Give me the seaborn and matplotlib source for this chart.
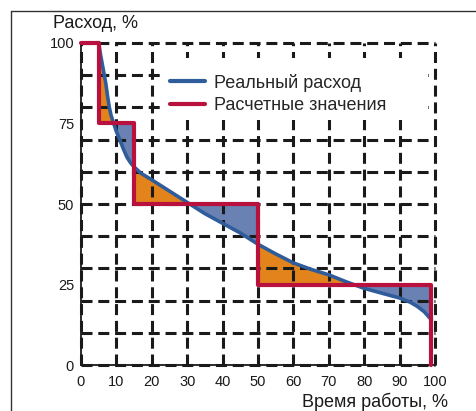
import numpy as np
import matplotlib
matplotlib.use("Agg")
import matplotlib.pyplot as plt
import seaborn as sns
from matplotlib.ticker import MultipleLocator, FixedLocator
from matplotlib.lines import Line2D
from matplotlib.patches import Rectangle

real_x = [5, 5.5, 6, 6.5, 7, 7.5, 8, 8.5, 9, 10, 11, 12, 13, 14, 15, 17, 20, 25, 30, 35,
          40, 45, 50, 55, 60, 65, 70, 75, 80, 85, 90, 93, 95, 97, 99]
real_y = [100, 96.5, 93.5, 90.5, 87.5, 83.5, 80, 77.5, 75.8, 72.5, 69.8, 67, 64.5, 62.8, 61.5, 59.5,
          57.5, 54, 50.5, 47, 44, 41, 37.5, 34.5, 31.7, 29.7, 28, 25.8, 23.8, 22.3, 20.8,
          19.5, 18.2, 16.5, 14]

# calculated (step) values
step_x = [0, 5, 15, 50, 99]
step_y = [100, 75, 50, 25, 0]

label_real = "Реальный расход"
label_calc = "Расчетные значения"

c_line = "#2f5c9a"
c_fill = "#6982b3"
c_orange = "#e2841b"
c_red = "#b8113e"

sns.set_style("white")
plt.rcParams["font.family"] = ["Liberation Sans", "DejaVu Sans"]

fig = plt.figure(figsize=(4.77, 4.11), dpi=100)
ax = fig.add_axes([81 / 477, 46 / 411, 354 / 477, 322 / 411])

# fills between real curve and each calculated step
rx = np.array(real_x)
ry = np.array(real_y)
for i in range(1, len(step_x) - 1):
    a, b, lvl = step_x[i], step_x[i + 1], step_y[i]
    m = (rx >= a) & (rx <= b)
    xs, ys = rx[m], ry[m]
    ax.fill_between(xs, ys, lvl, where=ys >= lvl, interpolate=True,
                    color=c_orange, lw=0, zorder=1)
    ax.fill_between(xs, ys, lvl, where=ys <= lvl, interpolate=True,
                    color=c_fill, lw=0, zorder=1)

sns.lineplot(x=real_x, y=real_y, ax=ax, color=c_line, lw=2.6, zorder=3,
             label=label_real, sort=False)
sns.lineplot(x=step_x, y=step_y, ax=ax, color=c_red, lw=3, zorder=4,
             drawstyle="steps-post", label=label_calc, sort=False, clip_on=False)

ax.set_xlim(0, 100)
ax.set_ylim(0, 100)
ax.xaxis.set_major_locator(MultipleLocator(10))
ax.yaxis.set_major_locator(FixedLocator([0, 25, 50, 75, 100]))
ax.yaxis.set_minor_locator(MultipleLocator(10))
ax.yaxis.remove_overlapping_locs = False

grid_kw = dict(color="#1a1a1a", linewidth=2.2, linestyle=(0, (3.6, 1.9)))
ax.grid(which="major", axis="x", **grid_kw)
ax.grid(which="minor", axis="y", **grid_kw)
ax.grid(which="major", axis="y", visible=False)
ax.set_axisbelow(False)  # grid above fills (axis zorder 2.5)
for t in ax.xaxis.get_major_ticks() + ax.yaxis.get_minor_ticks():
    t.gridline.set_clip_on(False)

ax.tick_params(which="major", labelsize=10.5, length=0, labelcolor="#1a1a1a")
ax.tick_params(axis="x", pad=7)
ax.tick_params(axis="y", pad=5)
ax.tick_params(which="minor", length=0)

for s in ["top", "right"]:
    ax.spines[s].set_visible(False)
for s in ["left", "bottom"]:
    ax.spines[s].set_color("#1a1a1a")
    ax.spines[s].set_linewidth(1.3)

ax.set_ylabel("Расход, %", fontsize=13, rotation=0, ha="left", va="center", color="#1a1a1a")
ax.yaxis.set_label_coords(-0.079, 1.062)
ax.set_xlabel("Время работы, %", fontsize=13, ha="right", va="center", color="#1a1a1a")
ax.xaxis.set_label_coords(1.037, -0.115)

# white area behind the legend
ax.add_patch(Rectangle((0.237, 0.761), 0.743, 0.192, transform=ax.transAxes,
                       facecolor="white", edgecolor="none", zorder=2.7))
leg = ax.legend(loc="upper left", bbox_to_anchor=(0.252, 0.905), frameon=False,
                fontsize=13, handlelength=1.9, handletextpad=0.55,
                labelspacing=0.3, borderpad=0, borderaxespad=0)
leg.set_zorder(5)
for h in leg.get_lines():
    h.set_linewidth(3)

# outer frame
fig.add_artist(Line2D([11 / 477, 1], [1 - 11 / 411, 1 - 11 / 411], color="#333333", lw=1))
fig.add_artist(Line2D([11 / 477, 11 / 477], [0, 1 - 11 / 411], color="#333333", lw=1))

fig.savefig("out.png", dpi=100)
